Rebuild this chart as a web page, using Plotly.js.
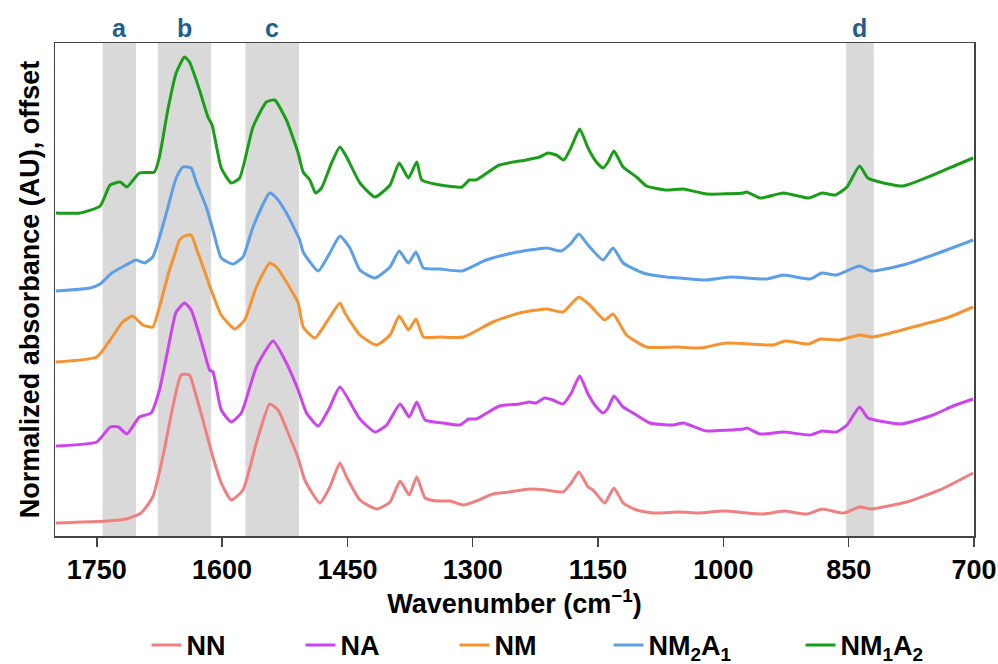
<!DOCTYPE html>
<html>
<head>
<meta charset="utf-8">
<script src="https://cdn.plot.ly/plotly-3.0.1.min.js"></script>
<style>html,body{margin:0;padding:0;background:#fff;}#chart{width:998px;height:664px;}</style>
</head>
<body>
<div id="chart"></div>
<script>
// ---- data (offset absorbance, arbitrary units) ----
var seriesNames = ["NN", "NA", "NM", "NM<sub>2</sub>A<sub>1</sub>", "NM<sub>1</sub>A<sub>2</sub>"];

var nnWave = [1799,1738,1715,1697,1683,1671,1659,1649,1639,1633,1623,1611,1601,1589,1575,1559,1543,1533,1521,1509,1501,1483,1471,1459,1451,1435,1415,1399,1387,1376,1367,1357,1343,1327,1311,1296,1276,1256,1232,1212,1192,1182,1173,1162,1156,1142,1131,1120,1104,1084,1052,1028,1000,952,928,900,882,856,837,823,781,741,701];
var nnAbs  = [0.13,0.15,0.17,0.23,0.39,0.79,1.29,1.61,1.61,1.46,1.16,0.79,0.53,0.36,0.46,0.93,1.32,1.26,1.03,0.78,0.56,0.33,0.49,0.73,0.59,0.36,0.27,0.34,0.55,0.41,0.59,0.38,0.35,0.35,0.31,0.35,0.42,0.44,0.47,0.46,0.44,0.53,0.64,0.49,0.46,0.33,0.48,0.33,0.26,0.23,0.24,0.23,0.25,0.22,0.25,0.22,0.27,0.23,0.29,0.27,0.34,0.46,0.63];

var naWave = [1799,1750,1734,1724,1714,1699,1685,1675,1665,1655,1645,1637,1623,1615,1611,1601,1589,1577,1559,1539,1523,1509,1499,1485,1471,1459,1435,1417,1403,1387,1376,1367,1357,1335,1315,1305,1296,1268,1244,1232,1224,1214,1204,1192,1182,1172,1162,1152,1144,1138,1131,1120,1110,1088,1060,1048,1028,1020,976,972,956,928,896,882,865,852,837,827,813,787,749,725,701];
var naAbs  = [0.90,0.94,1.09,1.09,1.02,1.19,1.23,1.46,1.86,2.24,2.33,2.26,1.89,1.66,1.64,1.26,1.14,1.23,1.69,1.95,1.73,1.46,1.23,1.10,1.29,1.49,1.17,1.04,1.11,1.32,1.19,1.34,1.16,1.13,1.11,1.17,1.17,1.30,1.32,1.34,1.33,1.38,1.36,1.32,1.43,1.60,1.42,1.29,1.23,1.28,1.40,1.29,1.24,1.13,1.11,1.13,1.07,1.05,1.07,1.08,1.02,1.04,1.01,1.05,1.04,1.11,1.29,1.18,1.15,1.12,1.21,1.30,1.37];

var nmWave = [1799,1750,1734,1719,1707,1695,1683,1675,1663,1655,1651,1645,1637,1629,1627,1613,1601,1585,1573,1559,1543,1535,1523,1509,1503,1489,1471,1459,1453,1435,1415,1399,1388,1377,1368,1359,1339,1311,1276,1244,1212,1192,1173,1160,1142,1132,1116,1092,1056,1028,996,940,926,898,884,861,837,821,773,733,701];
var nmAbs  = [1.74,1.79,1.96,2.14,2.20,2.11,2.09,2.29,2.66,2.86,2.96,3.00,3.01,2.83,2.79,2.46,2.21,2.07,2.16,2.49,2.73,2.69,2.54,2.33,2.09,1.98,2.19,2.33,2.23,2.01,1.91,2.01,2.20,2.06,2.17,1.99,1.99,1.99,2.14,2.23,2.27,2.24,2.39,2.31,2.16,2.22,2.01,1.89,1.89,1.88,1.93,1.91,1.95,1.92,1.97,1.96,2.01,1.99,2.09,2.18,2.29];

var nm2a1Wave = [1799,1758,1746,1732,1715,1703,1693,1683,1669,1655,1647,1637,1631,1619,1611,1601,1587,1575,1563,1543,1535,1523,1507,1503,1485,1471,1459,1447,1435,1417,1399,1388,1377,1368,1359,1339,1313,1284,1252,1212,1194,1182,1173,1162,1144,1132,1120,1096,1068,1052,1020,992,948,928,896,882,865,837,823,785,749,701];
var nm2a1Abs  = [2.45,2.48,2.52,2.63,2.71,2.76,2.73,2.79,3.16,3.58,3.69,3.68,3.54,3.29,3.06,2.78,2.72,2.79,3.09,3.43,3.38,3.23,2.96,2.84,2.65,2.83,3.00,2.88,2.66,2.58,2.69,2.85,2.73,2.84,2.68,2.67,2.65,2.76,2.83,2.88,2.85,2.93,3.02,2.91,2.76,2.88,2.73,2.63,2.59,2.58,2.56,2.59,2.57,2.61,2.57,2.63,2.61,2.70,2.65,2.71,2.81,2.96];

var nm1a2Wave = [1799,1770,1746,1734,1722,1714,1699,1681,1675,1665,1655,1645,1639,1627,1617,1612,1601,1589,1579,1563,1547,1537,1523,1509,1503,1495,1488,1481,1469,1459,1451,1435,1417,1399,1388,1377,1367,1361,1339,1313,1304,1296,1268,1236,1220,1210,1200,1191,1182,1172,1162,1152,1144,1138,1131,1120,1104,1092,1068,1048,1020,976,972,956,928,898,882,866,852,837,827,813,785,749,721,701];
var nm1a2Abs  = [3.23,3.23,3.30,3.51,3.54,3.49,3.63,3.64,3.79,4.26,4.63,4.79,4.74,4.46,4.19,4.11,3.68,3.53,3.58,4.09,4.34,4.36,4.16,3.83,3.64,3.56,3.43,3.48,3.73,3.89,3.79,3.53,3.39,3.51,3.73,3.58,3.74,3.56,3.51,3.49,3.56,3.56,3.71,3.76,3.79,3.83,3.81,3.76,3.89,4.07,3.88,3.74,3.68,3.74,3.85,3.69,3.59,3.50,3.46,3.47,3.42,3.43,3.44,3.38,3.43,3.38,3.43,3.41,3.49,3.70,3.58,3.54,3.50,3.61,3.71,3.78];

var xTickVals = [1750, 1600, 1450, 1300, 1150, 1000, 850, 700];
var bandLabels = ["a", "b", "c", "d"];
var bandStart  = [1743, 1677, 1572, 853];
var bandEnd    = [1703, 1613, 1508, 820];

// ---- styling ----
var colors = ["#f08080", "#cc44ee", "#f59331", "#5b9fe6", "#1a9e1a"];
var legendGroupOf = ["legend", "legend", "legend", "legend", "legend2"];
var waves = [nnWave, naWave, nmWave, nm2a1Wave, nm1a2Wave];
var absVals = [nnAbs, naAbs, nmAbs, nm2a1Abs, nm1a2Abs];
var FONT = "Liberation Sans, Arial, sans-serif";

var traces = seriesNames.map(function (name, i) {
  return {
    type: "scatter", mode: "lines", name: name, legend: legendGroupOf[i],
    x: waves[i], y: absVals[i],
    line: { color: colors[i], width: 3, shape: "spline", smoothing: 0.5 },
    hoverinfo: "skip"
  };
});

var shapes = bandLabels.map(function (lab, i) {
  return { type: "rect", xref: "x", yref: "paper", x0: bandStart[i], x1: bandEnd[i], y0: 0, y1: 1,
           fillcolor: "#d9d9d9", line: { width: 0 }, layer: "below" };
});
var annotations = bandLabels.map(function (lab, i) {
  return { xref: "x", yref: "paper", x: (bandStart[i] + bandEnd[i]) / 2, y: 1.03, yanchor: "middle",
           text: lab, showarrow: false, font: { family: FONT, size: 25, color: "#1f5f8f", weight: "bold" } };
});

var legendFont = { family: FONT, size: 27, color: "#000", weight: "bold" };
var layout = {
  width: 998, height: 664,
  margin: { l: 55, r: 24, t: 43, b: 128, autoexpand: false },
  paper_bgcolor: "#ffffff", plot_bgcolor: "#ffffff",
  font: { family: FONT, size: 27, color: "#000000", weight: "bold" },
  showlegend: true,
  legend: { orientation: "h", x: 0.0996, xanchor: "left", xref: "paper",
            y: 0.028, yanchor: "middle", yref: "container", font: legendFont,
            entrywidth: 109, entrywidthmode: "pixels", traceorder: "normal", bgcolor: "rgba(0,0,0,0)" },
  legend2: { orientation: "h", x: 0.8113, xanchor: "left", xref: "paper",
            y: 0.028, yanchor: "middle", yref: "container", font: legendFont,
            bgcolor: "rgba(0,0,0,0)" },
  xaxis: {
    range: [1800, 700], tickvals: xTickVals, ticktext: xTickVals.map(String),
    ticks: "outside", ticklen: 9, tickwidth: 1.5, tickcolor: "#444",
    showline: true, mirror: true, linecolor: "#444", linewidth: 1.5,
    showgrid: false, zeroline: false, automargin: false,
    tickfont: { family: FONT, size: 27, color: "#000", weight: "bold" },
    title: { text: "Wavenumber (cm<sup>\u22121</sup>)", font: { family: FONT, size: 27, color: "#000", weight: "bold" }, standoff: 8 }
  },
  yaxis: {
    range: [0, 4.93], showticklabels: false, ticks: "",
    showline: true, mirror: true, linecolor: "#444", linewidth: 1.5,
    showgrid: false, zeroline: false, automargin: false,
    title: { text: "Normalized absorbance (AU), offset", font: { family: FONT, size: 27, color: "#000", weight: "bold" }, standoff: 6 }
  },
  shapes: shapes,
  annotations: annotations
};

Plotly.newPlot("chart", traces, layout, { staticPlot: true, displayModeBar: false });
</script>
</body>
</html>
